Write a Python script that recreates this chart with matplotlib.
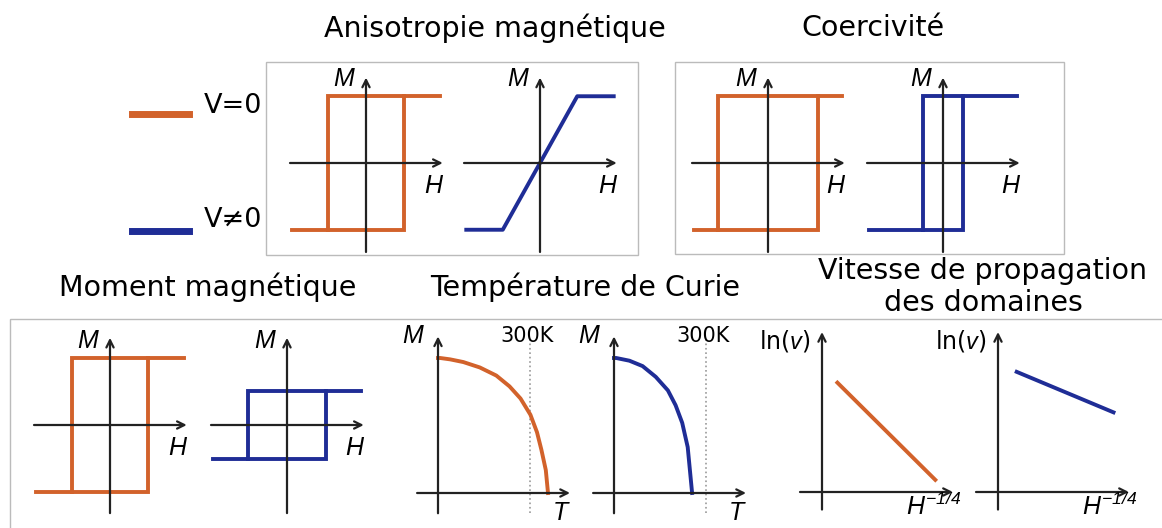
import matplotlib
matplotlib.use("Agg")
import matplotlib.pyplot as plt
from matplotlib.patches import Rectangle

plt.rcParams['mathtext.fontset'] = 'custom'
plt.rcParams['mathtext.it'] = 'Liberation Sans:italic'
plt.rcParams['mathtext.rm'] = 'Liberation Sans:italic'

# colours for the two voltage states
ORANGE = '#d2622b'
BLUE = '#1f2d96'
AXC = '#222222'

# hysteresis loops (H in units of the axis half-length, M the same)
tail = 0.97
aniso_v0_hc, aniso_v0_ms = 0.50, 0.75
aniso_v1_hsat, aniso_v1_ms = 0.49, 0.75
coer_v0_hc, coer_v0_ms = 0.66, 0.75
coer_v1_hc, coer_v1_ms = 0.26, 0.75
moment_v0_hc, moment_v0_ms = 0.50, 0.75
moment_v1_hc, moment_v1_ms = 0.51, 0.38

# M(T) curves, T scaled so Tc(V=0) = 1
curie_t_v0 = [0, 0.02, 0.11, 0.23, 0.38, 0.53, 0.65, 0.75, 0.84, 0.90, 0.94,
              0.98, 1.0]
curie_m_v0 = [1.0, 1.0, 0.99, 0.97, 0.93, 0.87, 0.79, 0.70, 0.58, 0.45, 0.32,
              0.17, 0.0]
curie_t_v1 = [0, 0.02, 0.14, 0.26, 0.38, 0.49, 0.56, 0.62, 0.67, 0.69, 0.71]
curie_m_v1 = [1.0, 1.0, 0.98, 0.94, 0.86, 0.76, 0.65, 0.52, 0.34, 0.17, 0.0]
t_300k = 0.84

# ln(v) vs H^-1/4 straight lines
creep_x_v0 = [0.14, 1.03]
creep_y_v0 = [0.81, 0.09]
creep_x_v1 = [0.17, 1.05]
creep_y_v1 = [0.89, 0.59]

W, H = 1162, 528
fig = plt.figure(figsize=(W / 100, H / 100), dpi=100)


def panel(ox, oy, ux, uy, xlo, xhi, ylo, yhi):
    # axes placed so that data (0,0) sits at pixel (ox, oy)
    ax = fig.add_axes([(ox + xlo * ux) / W, (H - oy + ylo * uy) / H,
                       (xhi - xlo) * ux / W, (yhi - ylo) * uy / H])
    ax.set_xlim(xlo, xhi)
    ax.set_ylim(ylo, yhi)
    ax.axis('off')
    arr = dict(arrowstyle='->', lw=1.6, color=AXC, shrinkA=0, shrinkB=0,
               mutation_scale=13)
    ax.annotate('', xy=(xhi, 0), xytext=(xlo, 0), arrowprops=arr,
                annotation_clip=False)
    ax.annotate('', xy=(0, yhi), xytext=(0, ylo), arrowprops=arr,
                annotation_clip=False)
    return ax


def loop(ax, hc, ms, color):
    ax.plot([-hc, hc, hc, -hc, -hc], [-ms, -ms, ms, ms, -ms], color=color,
            lw=2.8, clip_on=False, solid_joinstyle='miter')
    ax.plot([-tail, -hc], [-ms, -ms], color=color, lw=2.8, clip_on=False)
    ax.plot([hc, tail], [ms, ms], color=color, lw=2.8, clip_on=False)


LAB = dict(fontsize=18, style='italic', family='Liberation Sans',
           ha='center', va='center')


def mh_labels(ax):
    ax.text(-0.29, 0.94, 'M', **LAB)
    ax.text(0.88, -0.26, 'H', **LAB)


HX, HY = 76, 89
# anisotropy
ax = panel(366, 163, HX, HY, -1, 1.01, -1, 0.96)
loop(ax, aniso_v0_hc, aniso_v0_ms, ORANGE)
mh_labels(ax)
ax = panel(540, 163, HX, HY, -1, 1.01, -1, 0.96)
ax.plot([-tail, -aniso_v1_hsat, aniso_v1_hsat, tail],
        [-aniso_v1_ms, -aniso_v1_ms, aniso_v1_ms, aniso_v1_ms],
        color=BLUE, lw=2.8, clip_on=False)
mh_labels(ax)
# coercivity
ax = panel(768, 163, HX, HY, -1, 1.01, -1, 0.96)
loop(ax, coer_v0_hc, coer_v0_ms, ORANGE)
mh_labels(ax)
ax = panel(943, 163, HX, HY, -1, 1.01, -1, 0.96)
loop(ax, coer_v1_hc, coer_v1_ms, BLUE)
mh_labels(ax)
# magnetic moment
ax = panel(110, 425, HX, HY, -1, 1.01, -0.99, 0.98)
loop(ax, moment_v0_hc, moment_v0_ms, ORANGE)
mh_labels(ax)
ax = panel(287, 425, HX, HY, -1, 1.01, -0.99, 0.98)
loop(ax, moment_v1_hc, moment_v1_ms, BLUE)
mh_labels(ax)

# Curie temperature
CX, CY = 110, 135
for ox, t, m, col in [(438, curie_t_v0, curie_m_v0, ORANGE),
                      (614, curie_t_v1, curie_m_v1, BLUE)]:
    ax = panel(ox, 493, CX, CY, -0.19, 1.2, -0.15, 1.16)
    ax.plot([t_300k, t_300k], [-0.15, 1.13], ls=':', color='#999999', lw=1.2,
            clip_on=False)
    ax.plot(t, m, color=col, lw=2.8, clip_on=False, solid_joinstyle='round')
    ax.text(-0.23, 1.16, 'M', **LAB)
    ax.text(1.11, -0.15, 'T', **LAB)
    ax.text(t_300k - 0.03, 1.16, '300K', fontsize=15, ha='center',
            va='center')

# domain wall velocity
for ox, xs, ys, col in [(822, creep_x_v0, creep_y_v0, ORANGE),
                        (998, creep_x_v1, creep_y_v1, BLUE)]:
    ax = panel(ox, 492, CX, CY, -0.2, 1.19, -0.13, 1.185)
    ax.plot(xs, ys, color=col, lw=2.8, clip_on=False)
    ax.text(-0.34, 1.12, r'ln($v$)', fontsize=17, ha='center', va='center')
    ax.text(1.02, -0.11, r'$H^{-1/4}$', fontsize=18, ha='center',
            va='center')

# frames around the groups
for x0, y0, x1, y1 in [(266, 62, 638, 255), (675, 62, 1064, 254),
                       (10, 319, 1175, 540)]:
    fig.patches.append(Rectangle((x0 / W, 1 - y1 / H), (x1 - x0) / W,
                                 (y1 - y0) / H, transform=fig.transFigure,
                                 fill=False, ec='#bbbbbb', lw=1.0))

# titles
tt = dict(fontsize=20.5, ha='center', va='center')
fig.text(495 / W, 1 - 28 / H, 'Anisotropie magnétique', **tt)
fig.text(873 / W, 1 - 28 / H, 'Coercivité', **tt)
fig.text(208 / W, 1 - 287 / H, 'Moment magnétique', **tt)
fig.text(585 / W, 1 - 287 / H, 'Température de Curie', **tt)
fig.text(983 / W, 1 - 287 / H, 'Vitesse de propagation\ndes domaines',
         linespacing=1.15, **tt)

# legend
fig.add_artist(plt.Line2D([132 / W, 189 / W], [1 - 114 / H, 1 - 114 / H],
                          color=ORANGE, lw=5))
fig.add_artist(plt.Line2D([132 / W, 189 / W], [1 - 231 / H, 1 - 231 / H],
                          color=BLUE, lw=5))
fig.text(204 / W, 1 - 106 / H, 'V=0', fontsize=19.5, va='center')
fig.text(204 / W, 1 - 220 / H, 'V≠0', fontsize=19.5, va='center')

fig.savefig('out.png', dpi=100)
